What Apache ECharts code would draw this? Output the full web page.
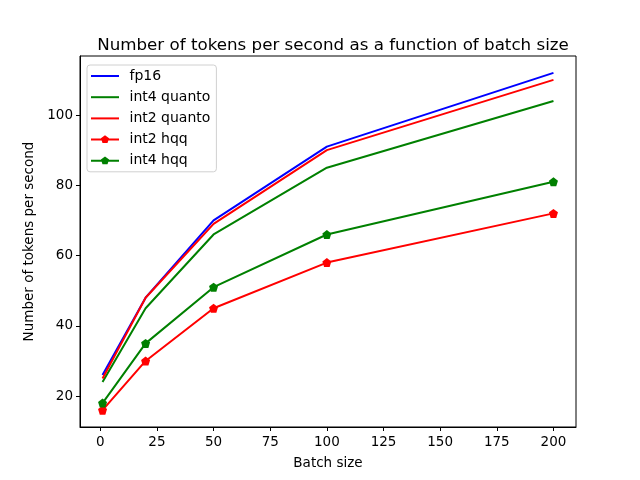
<!DOCTYPE html>
<html>
<head>
<meta charset="UTF-8">
<title>tokens per second</title>
<script src="https://cdn.jsdelivr.net/npm/echarts@6/dist/echarts.min.js"></script>
<style>
    html, body { margin: 0; padding: 0; background: #fff; }
    #main { width: 640px; height: 480px; }
</style>
</head>
<body>
<div id="main"></div>
<script>
// data
var batchSizes = [1, 20, 50, 100, 200];
var fp16 = [26, 48, 70, 91, 112];
var int4Quanto = [24, 45, 66, 85, 104];
var int2Quanto = [25, 48, 69, 90, 110];
var int2Hqq = [16, 30, 45, 58, 72];
var int4Hqq = [18, 35, 51, 66, 81];
var xTicks = [0, 25, 50, 75, 100, 125, 150, 175, 200];
var yTicks = [20, 40, 60, 80, 100];

var pentagon = 'path://M0,-1 L0.951,-0.309 L0.588,0.809 L-0.588,0.809 L-0.951,-0.309 Z';
// legend icons: the extra moves keep the box at 28x14
var lineIcon = 'path://M0,0 M28,14 M0,6 H28 V8 H0 Z';
var markIcon = 'path://M0,0 M28,14 M0,6 H28 V8 H0 Z M14,2.7 L18.1,5.7 L16.5,10.5 L11.5,10.5 L9.9,5.7 Z';
var font = 'DejaVu Sans';

function pairs(ys) {
    var out = [];
    for (var i = 0; i < batchSizes.length; i++) out.push([batchSizes[i], ys[i]]);
    return out;
}

function lineSeries(name, ys, color, marker) {
    return {
        name: name,
        type: 'line',
        data: pairs(ys),
        symbol: marker ? pentagon : 'none',
        symbolSize: 9,
        showSymbol: !!marker,
        animation: false,
        lineStyle: { color: color, width: 2 },
        itemStyle: { color: color },
        emphasis: { disabled: true }
    };
}

var myChart = echarts.init(document.getElementById('main'));
var option = {
    backgroundColor: '#fff',
    animation: false,
    title: {
        text: 'Number of tokens per second as a function of batch size',
        left: 328, top: 32, textAlign: 'center',
        textStyle: { fontFamily: font, fontSize: 16.7, fontWeight: 'normal', color: '#000' }
    },
    grid: { left: 80, right: 64, top: 56, bottom: 53, show: true, borderColor: '#000', borderWidth: 1 },
    legend: {
        orient: 'vertical',
        left: 87, top: 65,
        padding: [4, 6, 4, 4],
        itemGap: 7.2,
        itemWidth: 29, itemHeight: 14,
        borderColor: '#d0d0d0', borderWidth: 1, borderRadius: 3,
        textStyle: { fontFamily: font, fontSize: 14, color: '#000', padding: [0, 0, 0, 5] },
        data: [
            { name: 'fp16', icon: lineIcon },
            { name: 'int4 quanto', icon: lineIcon },
            { name: 'int2 quanto', icon: lineIcon },
            { name: 'int2 hqq', icon: markIcon },
            { name: 'int4 hqq', icon: markIcon }
        ]
    },
    xAxis: {
        type: 'value',
        min: -8.95, max: 209.95,
        name: 'Batch size', nameLocation: 'middle', nameGap: 29,
        nameTextStyle: { fontFamily: font, fontSize: 13.5, color: '#000' },
        axisLine: { show: true, onZero: false, lineStyle: { color: '#000' } },
        axisTick: { show: true, length: 4, customValues: xTicks, lineStyle: { color: '#000' } },
        axisLabel: { customValues: xTicks, fontFamily: font, fontSize: 13.5, color: '#000', margin: 8 },
        splitLine: { show: false }
    },
    yAxis: {
        type: 'value',
        min: 11.2, max: 116.8,
        name: 'Number of tokens per second', nameLocation: 'middle', nameGap: 43,
        nameTextStyle: { fontFamily: font, fontSize: 13.5, color: '#000' },
        axisLine: { show: true, onZero: false, lineStyle: { color: '#000' } },
        axisTick: { show: true, length: 4, customValues: yTicks, lineStyle: { color: '#000' } },
        axisLabel: { customValues: yTicks, fontFamily: font, fontSize: 13.5, color: '#000', margin: 7 },
        splitLine: { show: false }
    },
    series: [
        lineSeries('fp16', fp16, '#0000ff', false),
        lineSeries('int4 quanto', int4Quanto, '#008000', false),
        lineSeries('int2 quanto', int2Quanto, '#ff0000', false),
        lineSeries('int2 hqq', int2Hqq, '#ff0000', true),
        lineSeries('int4 hqq', int4Hqq, '#008000', true)
    ]
};
myChart.setOption(option);
</script>
</body>
</html>
